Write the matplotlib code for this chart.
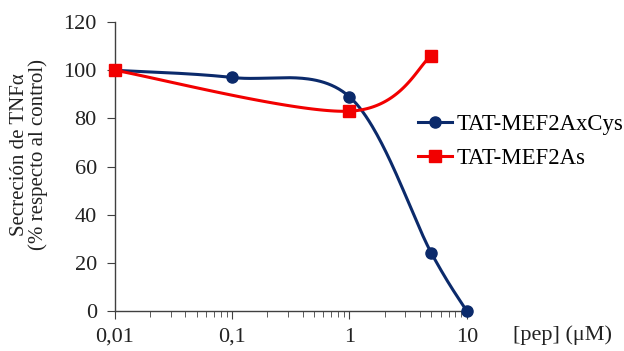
import numpy as np
import matplotlib
matplotlib.use("Agg")
import matplotlib.pyplot as plt
from matplotlib.ticker import FixedLocator, NullFormatter

plt.rcParams['font.family'] = ['Liberation Serif', 'DejaVu Serif']

# Concentrations (µM) and TNFα secretion (% of control)
conc_cys = [0.01, 0.1, 1, 5, 10]
tnf_cys = [100, 97, 89, 24, 0]
conc_as = [0.01, 1, 5]
tnf_as = [100, 83, 106]

x_ticks = [0.01, 0.1, 1, 10]
x_ticklabels = ['0,01', '0,1', '1', '10']
y_ticks = [0, 20, 40, 60, 80, 100, 120]

label_cys = 'TAT-MEF2AxCys'
label_as = 'TAT-MEF2As'
color_cys = '#0B2A6B'
color_as = '#F20000'
text_color = '#222222'


def smooth(xs, ys, n=60):
    """Catmull-Rom smoothing in (log10 x, y) space."""
    lx = np.log10(np.asarray(xs, float))
    y = np.asarray(ys, float)
    px = np.concatenate([[lx[0]], lx, [lx[-1]]])
    py = np.concatenate([[y[0]], y, [y[-1]]])
    outx, outy = [], []
    for i in range(1, len(px) - 2):
        p0, p1, p2, p3 = (np.array([px[j], py[j]]) for j in (i - 1, i, i + 1, i + 2))
        c1 = p1 + (p2 - p0) / 6
        c2 = p2 - (p3 - p1) / 6
        t = np.linspace(0, 1, n)[:, None]
        pts = ((1 - t) ** 3) * p1 + 3 * ((1 - t) ** 2) * t * c1 + 3 * (1 - t) * t ** 2 * c2 + t ** 3 * p2
        outx.append(pts[:, 0])
        outy.append(pts[:, 1])
    return 10 ** np.concatenate(outx), np.concatenate(outy)


fig = plt.figure(figsize=(6.24, 3.51), dpi=100)
ax = fig.add_axes([0.184, 0.114, 0.564, 0.823])

sx, sy = smooth(conc_cys, tnf_cys)
ax.plot(sx, sy, color=color_cys, lw=2.2, zorder=3, clip_on=False)
ax.plot(conc_cys, tnf_cys, 'o', color=color_cys, ms=8, zorder=4, clip_on=False)

sx, sy = smooth(conc_as, tnf_as)
ax.plot(sx, sy, color=color_as, lw=2.2, zorder=5, clip_on=False)
ax.plot(conc_as, tnf_as, 's', color=color_as, ms=8, zorder=6, clip_on=False)

ax.set_xscale('log')
ax.set_xlim(0.01, 10)
ax.set_ylim(0, 120)
ax.set_xticks(x_ticks)
ax.set_xticklabels(x_ticklabels)
ax.xaxis.set_minor_locator(FixedLocator(
    [m * 10.0 ** e for e in (-2, -1, 0) for m in range(2, 10)]))
ax.xaxis.set_minor_formatter(NullFormatter())
ax.set_yticks(y_ticks)

for s in ('top', 'right'):
    ax.spines[s].set_visible(False)
for s in ('left', 'bottom'):
    ax.spines[s].set_color('#404040')
    ax.spines[s].set_linewidth(1.0)
ax.spines['left'].set_zorder(1)
ax.tick_params(axis='both', which='major', direction='out', length=6,
               color='#404040', labelsize=16, labelcolor=text_color)
ax.tick_params(axis='x', which='minor', direction='out', length=4, color='#404040')
ax.tick_params(axis='x', pad=6)
ax.tick_params(axis='y', pad=7)

ax.set_ylabel('Secreción de TNFα\n(% respecto al control)', fontsize=15,
              color=text_color, linespacing=0.95)
ax.yaxis.set_label_coords(-0.19, 0.543)
fig.text(0.822, 0.046, '[pep] (μM)', fontsize=16, color=text_color, va='center')

ax.plot([], [], '-o', color=color_cys, lw=2.2, ms=8, label=label_cys)
ax.plot([], [], '-s', color=color_as, lw=2.2, ms=8, label=label_as)
handles, labels = ax.get_legend_handles_labels()
fig.legend(handles[-2:], labels[-2:], loc='center left', bbox_to_anchor=(0.670, 0.597),
           frameon=False, fontsize=16.4, handlelength=1.5, handletextpad=0.2,
           labelspacing=0.55, borderaxespad=0, borderpad=0)

fig.savefig('out.png', dpi=100)
